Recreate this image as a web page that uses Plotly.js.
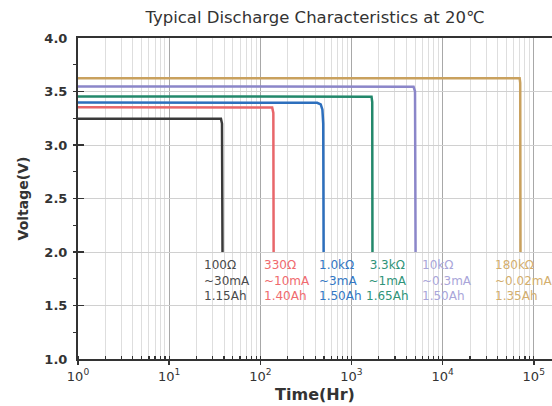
<!DOCTYPE html>
<html><head><meta charset="utf-8">
<script src="https://cdn.plot.ly/plotly-3.0.1.min.js"></script>
<style>html,body{margin:0;padding:0;background:#fff}#chart{width:552px;height:406px}</style>
</head><body><div id="chart"></div>
<script>
// ---- data ----
const loads = ['100Ω', '330Ω', '1.0kΩ', '3.3kΩ', '10kΩ', '180kΩ'];
const currents = ['~30mA', '~10mA', '~3mA', '~1mA', '~0.3mA', '~0.02mA'];
const capacities = ['1.15Ah', '1.40Ah', '1.50Ah', '1.65Ah', '1.50Ah', '1.35Ah'];

const hours100R = [1, 37, 38, 38.5];
const volts100R = [3.245, 3.245, 3.2, 2.0];
const hours330R = [1, 135, 139, 140];
const volts330R = [3.352, 3.35, 3.3, 2.0];
const hours1k0 = [1, 420, 460, 480, 490, 495];
const volts1k0 = [3.398, 3.395, 3.38, 3.33, 3.2, 2.0];
const hours3k3 = [1, 1660, 1690, 1700];
const volts3k3 = [3.454, 3.452, 3.4, 2.0];
const hours10k = [1, 4800, 4980, 5050];
const volts10k = [3.547, 3.545, 3.5, 2.0];
const hours180k = [1, 70000, 71000, 71500];
const volts180k = [3.625, 3.624, 3.58, 2.0];

const xTickVals = [1, 10, 100, 1000, 10000, 100000];
const xTickText = ['10<sup>0</sup>', '10<sup>1</sup>', '10<sup>2</sup>', '10<sup>3</sup>', '10<sup>4</sup>', '10<sup>5</sup>'];

// ---- styles ----
const lineColors = ['#3a3a3a', '#e8666a', '#2d6fbd', '#23886b', '#8b86c9', '#c9a15e'];
const textColors = ['#4a4a4a', '#f06a6e', '#3377c4', '#2f9479', '#a9a5d9', '#d3ae6d'];
const labelHours = [23, 104, 414, 2455, 5650, 35700];
const labelAnchor = ['left', 'left', 'left', 'center', 'left', 'left'];
const labelTopVolt = 1.967;

const hours = [hours100R, hours330R, hours1k0, hours3k3, hours10k, hours180k];
const volts = [volts100R, volts330R, volts1k0, volts3k3, volts10k, volts180k];

const traces = loads.map((name, i) => ({
  type: 'scatter', mode: 'lines', name: name,
  x: hours[i], y: volts[i],
  line: {color: lineColors[i], width: 2.5},
  hoverinfo: 'skip'
}));

const annotations = loads.map((name, i) => ({
  x: Math.log10(labelHours[i]), y: labelTopVolt, xref: 'x', yref: 'y',
  xanchor: labelAnchor[i], yanchor: 'top', align: labelAnchor[i],
  showarrow: false,
  text: name + '<br>' + currents[i] + '<br>' + capacities[i],
  font: {family: 'DejaVu Sans', size: 12, color: textColors[i]}
}));

const layout = {
  width: 552, height: 406,
  margin: {l: 78, r: 0, t: 38, b: 47},
  paper_bgcolor: '#fff', plot_bgcolor: '#fff',
  showlegend: false,
  title: {
    text: 'Typical Discharge Characteristics at 20℃',
    font: {family: 'DejaVu Sans', size: 16.5, color: '#333'},
    x: 0.5, xref: 'paper', xanchor: 'center',
    y: 1 - 17 / 406, yref: 'container', yanchor: 'middle'
  },
  xaxis: {
    type: 'log', range: [0, 5.2],
    tickmode: 'array', tickvals: xTickVals, ticktext: xTickText,
    ticks: 'outside', ticklen: 4, tickwidth: 1.5, tickcolor: '#333',
    showline: true, linecolor: '#333', linewidth: 2, mirror: true,
    showgrid: true, gridcolor: '#a8a8a8', gridwidth: 1,
    zeroline: false,
    tickfont: {family: 'DejaVu Sans', size: 13, color: '#333'},
    minor: {dtick: 'D1', ticks: 'inside', ticklen: 3, tickwidth: 1.2, tickcolor: '#333',
            showgrid: true, gridcolor: '#dedede', gridwidth: 1},
    title: {text: 'Time(Hr)', standoff: 6,
            font: {family: 'DejaVu Sans', size: 16, color: '#333', weight: 'bold'}}
  },
  yaxis: {
    range: [1, 4], dtick: 0.5, tick0: 1, tickformat: '.1f',
    ticks: 'inside', ticklen: 6, tickwidth: 1.5, tickcolor: '#333',
    showline: true, linecolor: '#333', linewidth: 2, mirror: false,
    showgrid: true, gridcolor: '#d0d0d0', gridwidth: 1,
    zeroline: false,
    ticklabelstandoff: 6,
    tickfont: {family: 'DejaVu Sans', size: 13, color: '#333', weight: 'bold'},
    minor: {dtick: 0.25, ticks: 'outside', ticklen: 3, tickwidth: 1.2, tickcolor: '#333', showgrid: false},
    title: {text: 'Voltage(V)', standoff: 12,
            font: {family: 'DejaVu Sans', size: 14, color: '#333', weight: 'bold'}}
  },
  annotations: annotations
};

Plotly.newPlot('chart', traces, layout, {displayModeBar: false, staticPlot: true});
</script>
</body></html>
